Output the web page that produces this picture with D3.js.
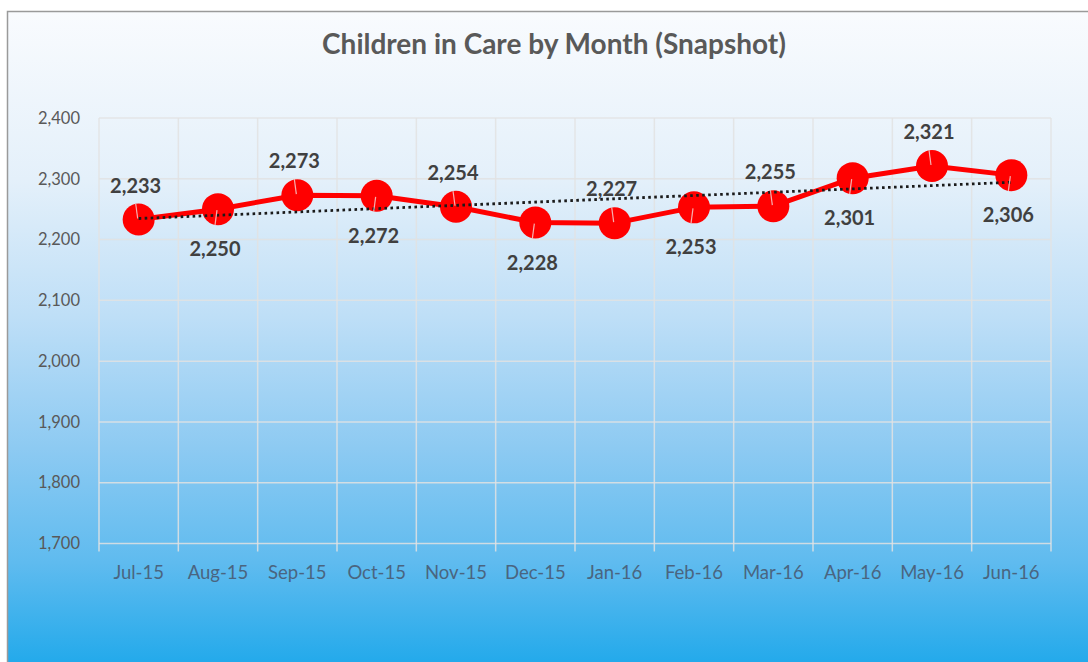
<!DOCTYPE html>
<html>
<head>
<meta charset="utf-8">
<script src="https://cdn.jsdelivr.net/npm/d3@7/dist/d3.min.js"></script>
<style>
html,body{margin:0;padding:0;background:#fff;}
svg{display:block;}
</style>
</head>
<body>
<svg id="chart" width="1088" height="662"></svg>
<script>
const title = "Children in Care by Month (Snapshot)";
const months = ["Jul-15","Aug-15","Sep-15","Oct-15","Nov-15","Dec-15","Jan-16","Feb-16","Mar-16","Apr-16","May-16","Jun-16"];
const children = [2233,2250,2273,2272,2254,2228,2227,2253,2255,2301,2321,2306];
const labelSide = ["above","below","above","below","above","below","above","below","above","below","above","below"];
const yTicks = [1700,1800,1900,2000,2100,2200,2300,2400];

const svg = d3.select("#chart");
const W = 1088, H = 662;
const plot = {left: 99, right: 1051, top: 118, bottom: 543.5};
const font = "Lato, 'Open Sans', sans-serif";

// background gradient
const defs = svg.append("defs");
const grad = defs.append("linearGradient").attr("id","bg").attr("x1",0).attr("y1",0).attr("x2",0).attr("y2",1);
[[0,"#f9fbfe"],[0.25,"#e4f0fa"],[0.45,"#bfdff7"],[0.65,"#8dcaf2"],[0.82,"#5fbbef"],[1,"#17a6ea"]]
  .forEach(([o,c]) => grad.append("stop").attr("offset",o).attr("stop-color",c));

svg.append("rect").attr("width",W).attr("height",H).attr("fill","#fff");
svg.append("rect").attr("x",7.5).attr("y",11.5).attr("width",W+10).attr("height",H+10)
  .attr("fill","url(#bg)").attr("stroke","#9a9a9a").attr("stroke-width",1.5);

const x = d3.scaleBand().domain(months).range([plot.left, plot.right]).padding(0);
const y = d3.scaleLinear().domain([1700,2400]).range([plot.bottom, plot.top]);
const cx = m => x(m) + x.bandwidth()/2;

// gridlines
const grid = svg.append("g");
grid.selectAll("line.h").data(yTicks).join("line")
  .attr("x1",plot.left).attr("x2",plot.right)
  .attr("y1",d=>y(d)).attr("y2",d=>y(d))
  .attr("stroke","#e2e2e2").attr("stroke-opacity",0.85).attr("stroke-width",1.5);
const bounds = months.map(m => x(m)).concat([plot.right]);
grid.selectAll("line.v").data(bounds).join("line")
  .attr("x1",d=>d).attr("x2",d=>d)
  .attr("y1",plot.top).attr("y2",plot.bottom+8)
  .attr("stroke","#e2e2e2").attr("stroke-opacity",0.85).attr("stroke-width",1.5);

// y axis labels
const yAxis = d3.axisLeft(y).tickValues(yTicks).tickFormat(d3.format(",")).tickSize(0).tickPadding(19);
const gy = svg.append("g").attr("transform",`translate(${plot.left},0)`).call(yAxis);
gy.select(".domain").remove();
gy.selectAll("text").attr("font-family",font).attr("font-size",16.5).attr("fill","#595959");

// x axis labels
const xAxis = d3.axisBottom(x).tickSize(0).tickPadding(22);
const gx = svg.append("g").attr("transform",`translate(0,${plot.bottom})`).call(xAxis);
gx.select(".domain").remove();
gx.selectAll("text").attr("font-family",font).attr("font-size",18.5).attr("fill","#4a6580");

// title
svg.append("text").attr("x",554).attr("y",54).attr("text-anchor","middle")
  .attr("font-family",font).attr("font-weight","bold").attr("font-size",28)
  .attr("fill","#595959").text(title);

// series line
const line = d3.line().x((d,i)=>cx(months[i])).y(d=>y(d));
svg.append("path").datum(children).attr("d",line)
  .attr("fill","none").attr("stroke","#ff0000").attr("stroke-width",5).attr("stroke-linejoin","round");

// linear trendline (least squares fit of the series)
const n = children.length;
const xs = d3.range(n);
const mx = d3.mean(xs), my = d3.mean(children);
const slope = d3.sum(xs, i => (i-mx)*(children[i]-my)) / d3.sum(xs, i => (i-mx)*(i-mx));
const icpt = my - slope*mx;
const trend = [0, n-1].map(i => ({m: months[i], v: icpt + slope*i}));

// markers
svg.selectAll("circle.pt").data(children).join("circle")
  .attr("cx",(d,i)=>cx(months[i])).attr("cy",d=>y(d)).attr("r",16).attr("fill","#ff0000");

svg.append("line")
  .attr("x1",cx(trend[0].m)).attr("y1",y(trend[0].v))
  .attr("x2",cx(trend[1].m)).attr("y2",y(trend[1].v))
  .attr("stroke","#1a1a1a").attr("stroke-width",2.8).attr("stroke-dasharray","2.6,3.4");

// leader lines and labels
const lbl = svg.append("g");
children.forEach((v,i) => {
  const px = cx(months[i]), py = y(v);
  const up = labelSide[i] === "above";
  const ly = up ? py - 34 : py + 40;
  lbl.append("line")
    .attr("x1",px-1).attr("y1",up ? py - 1 : py + 1)
    .attr("x2",px-3).attr("y2",up ? py - 16 : py + 16)
    .attr("stroke","#f3d0d0").attr("stroke-width",1.2).attr("stroke-opacity",0.85);
  lbl.append("text").attr("x",px-3).attr("y",ly).attr("dy","0.35em").attr("text-anchor","middle")
    .attr("font-family",font).attr("font-weight","bold").attr("font-size",20)
    .attr("fill","#404040").text(d3.format(",")(v));
});
</script>
</body>
</html>
